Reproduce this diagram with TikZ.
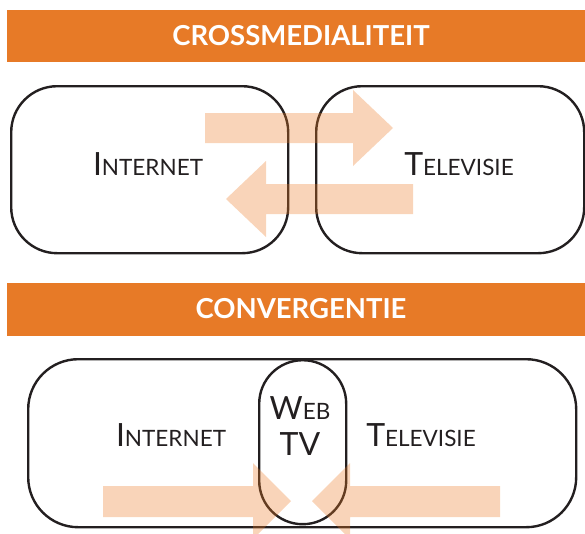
\documentclass[tikz,border=0pt]{standalone}
\usepackage{fontspec}
\setmainfont{Lato}
\definecolor{bandorange}{HTML}{E77A27}
\definecolor{ink}{HTML}{231F20}
\definecolor{arrowc}{HTML}{EC7A24}
\newcommand\smcap[2]{{\fontsize{32}{32}\selectfont #1}{\fontsize{22.5}{22.5}\selectfont #2}}
\begin{document}
\begin{tikzpicture}[x=1pt,y=-1pt,
  band/.style={fill=bandorange, draw=none, inner sep=0pt, anchor=north west},
  bandtext/.style={text=white, font=\fontsize{27.5}{27.5}\selectfont\bfseries, inner sep=0pt},
  box/.style={draw=ink, line width=2.4pt, inner sep=0pt, anchor=north west},
  lbl/.style={text=ink, inner sep=0pt, anchor=base},
  bigarrow/.style={fill=arrowc, fill opacity=0.32, draw=none}]
\useasboundingbox (0,0) rectangle (585,533);
% top section
\node[band, minimum width=578pt, minimum height=52pt] (band1) at (7,10) {};
\node[bandtext] (t1) at (301,36) {CROSSMEDIALITEIT};
\node[box, rounded corners=46pt, minimum width=277pt, minimum height=167pt] (inet1) at (10,85) {};
\node[box, rounded corners=46pt, minimum width=268pt, minimum height=167pt] (tv1) at (315,85) {};
\node[lbl] (l1) at (148,175) {\smcap{I}{NTERNET}};
\node[lbl] (l2) at (459,175) {\smcap{T}{ELEVISIE}};
\fill[bigarrow] (205,113) -- (353,113) -- (353,90) -- (393,128) -- (353,166) -- (353,143) -- (205,143) -- cycle;
\fill[bigarrow] (413,184) -- (266,184) -- (266,161) -- (226,199) -- (266,237) -- (266,214) -- (413,214) -- cycle;
% bottom section
\node[band, minimum width=578pt, minimum height=53pt] (band2) at (7,283) {};
\node[bandtext] (t2) at (301,309) {CONVERGENTIE};
\node[box, rounded corners=50pt, minimum width=548pt, minimum height=168pt] (both) at (27,358) {};
\node[box, rounded corners=43.5pt, minimum width=87pt, minimum height=164pt] (webtv) at (258,359) {};
\node[lbl] (l3) at (171,446) {\smcap{I}{NTERNET}};
\node[lbl] (l4) at (421,446) {\smcap{T}{ELEVISIE}};
\node[lbl] (l5) at (300,419) {\smcap{W}{EB}};
\node[lbl, font=\fontsize{32}{32}\selectfont] (l6) at (300,455) {TV};
\fill[bigarrow] (103,486) -- (253,486) -- (253,463) -- (291,501) -- (253,539) -- (253,517) -- (103,517) -- cycle;
\fill[bigarrow] (500,486) -- (350,486) -- (350,463) -- (312,501) -- (350,539) -- (350,517) -- (500,517) -- cycle;
\end{tikzpicture}
\end{document}
